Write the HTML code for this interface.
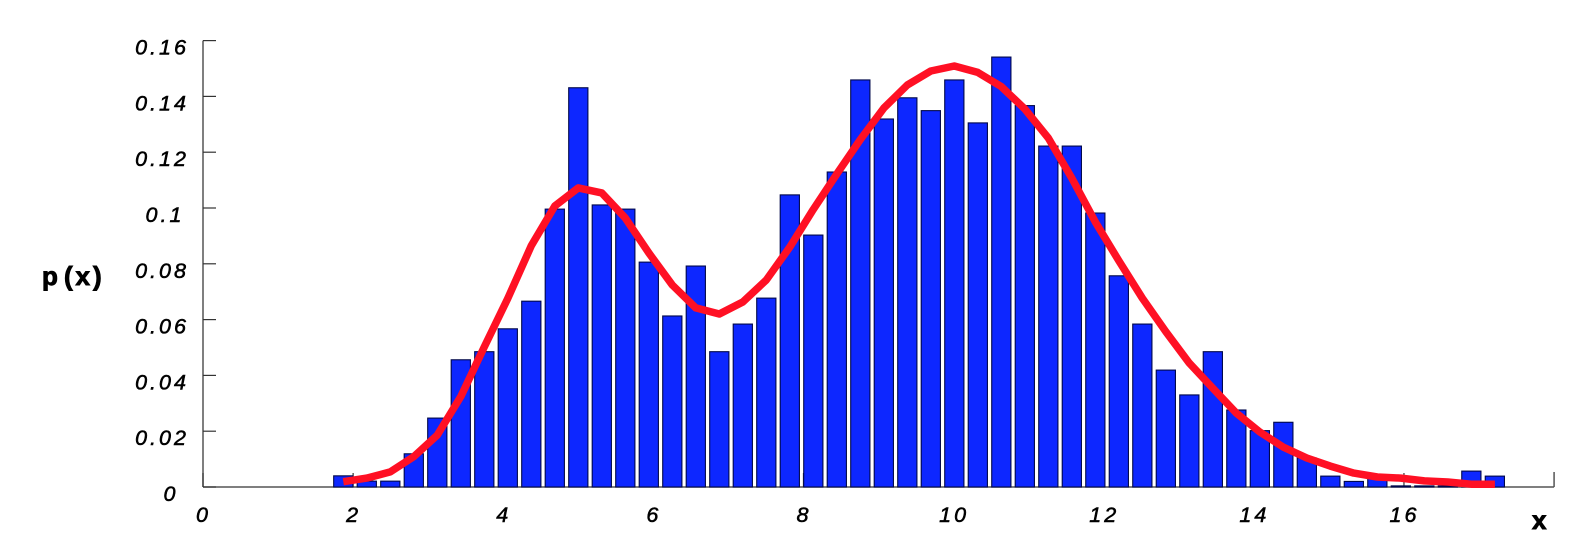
<!DOCTYPE html>
<html lang="en">
<head>
<meta charset="utf-8">
<title>Histogram of p(x) with density curve</title>
<style>
html,body{margin:0;padding:0;background:#fff;}
body{width:1596px;height:556px;overflow:hidden;}
svg{display:block;}
text{font-family:"Liberation Sans",sans-serif;fill:#000;}
.tick-label{font-size:21.5px;font-style:italic;letter-spacing:3px;text-anchor:middle;stroke:#000;stroke-width:.55px;}
.axis-title{font-size:26px;font-weight:bold;stroke:#000;stroke-width:.9px;}
</style>
</head>
<body>
<svg id="chart" width="1596" height="556" viewBox="0 0 1596 556" xmlns="http://www.w3.org/2000/svg">
  <g id="axes"></g>
  <g id="bars"></g>
  <polyline id="curve" fill="none" stroke="#ff1024" stroke-width="7.5" stroke-linejoin="round"></polyline>
  <g id="tick-labels"></g>
  <text class="axis-title" x="42 64 75.5 93" y="285">p(x)</text>
  <text class="axis-title" x="1532" y="529">x</text>
</svg>
<script>
const xTicks = [0, 2, 4, 6, 8, 10, 12, 14, 16];
const yTicks = [0.02, 0.04, 0.06, 0.08, 0.1, 0.12, 0.14, 0.16];
const yTickLabels = ['0.02', '0.04', '0.06', '0.08', '0.1', '0.12', '0.14', '0.16'];
const firstBinCenter = 1.869;
const binWidth = 0.3131;
const barValues = [
  0.0040, 0.0021, 0.0021, 0.0119, 0.0247, 0.0456, 0.0485, 0.0567, 0.0666, 0.0996,
  0.1431, 0.1011, 0.0996, 0.0806, 0.0613, 0.0792, 0.0485, 0.0584, 0.0677, 0.1047,
  0.0903, 0.1129, 0.1459, 0.1319, 0.1395, 0.1349, 0.1459, 0.1305, 0.1541, 0.1367,
  0.1222, 0.1222, 0.0982, 0.0757, 0.0584, 0.0419, 0.0330, 0.0485, 0.0276, 0.0202,
  0.0232, 0.0104, 0.0039, 0.0020, 0.0040, 0.0004, 0.0004, 0.0004, 0.0057, 0.0039
];
const curveValues = [
  0.0019, 0.0032, 0.0054, 0.0109, 0.0186, 0.0324, 0.0502, 0.0676, 0.0865, 0.1007,
  0.1072, 0.1054, 0.0964, 0.0839, 0.0724, 0.0642, 0.0620, 0.0663, 0.0742, 0.0860,
  0.0995, 0.1122, 0.1245, 0.1358, 0.1441, 0.1491, 0.1509, 0.1486, 0.1435, 0.1355,
  0.1251, 0.1107, 0.0950, 0.0811, 0.0677, 0.0557, 0.0444, 0.0354, 0.0265, 0.0197,
  0.0143, 0.0104, 0.0075, 0.0050, 0.0036, 0.0032, 0.0022, 0.0018, 0.0010, 0.0010
];

const NS = 'http://www.w3.org/2000/svg';
const xScale = function (v) { return 203 + v * 75.06; };
const yScale = function (v) { return 487 - v * 2790; };
const axisColor = '#555';

function make(tag, attrs) {
  const el = document.createElementNS(NS, tag);
  Object.keys(attrs).forEach(function (k) { el.setAttribute(k, attrs[k]); });
  return el;
}

const axes = document.getElementById('axes');
const barsGroup = document.getElementById('bars');
const labels = document.getElementById('tick-labels');

const yAxis = make('line', { x1: xScale(0), y1: yScale(0.16), x2: xScale(0), y2: yScale(0), stroke: axisColor, 'stroke-width': 1.5 });


axes.appendChild(yAxis);

const xAxis = make('line', { x1: xScale(0), y1: yScale(0), x2: xScale(18), y2: yScale(0), stroke: axisColor, 'stroke-width': 1.5 });


axes.appendChild(xAxis);

const xEnd = make('line', { x1: xScale(18), y1: yScale(0), x2: xScale(18), y2: yScale(0) - 15, stroke: axisColor, 'stroke-width': 1.5 });


axes.appendChild(xEnd);

yTicks.concat([0]).forEach(function (v) {
  const t = make('line', { x1: xScale(0), y1: yScale(v), x2: xScale(0) + 13, y2: yScale(v), stroke: '#333', 'stroke-width': 1.2 });
  
  
  axes.appendChild(t);
});

xTicks.forEach(function (v) {
  const t = make('line', { x1: xScale(v), y1: yScale(0), x2: xScale(v), y2: yScale(0) - 14, stroke: '#333', 'stroke-width': 1.2 });
  
  
  axes.appendChild(t);
});

barValues.forEach(function (v, i) {
  const center = firstBinCenter + i * binWidth;
  const left = xScale(center - 0.128);
  const right = xScale(center + 0.128);
  const bar = make('rect', {
    x: left,
    y: yScale(v),
    width: right - left,
    height: yScale(0) - yScale(v),
    fill: '#0d27ff',
    stroke: '#00084a',
    'stroke-width': 1.1
  });
  
  
  barsGroup.appendChild(bar);
});

const curvePoints = curveValues.map(function (v, i) {
  return xScale(firstBinCenter + i * binWidth).toFixed(1) + ',' + yScale(v).toFixed(1);
});
document.getElementById('curve').setAttribute('points', curvePoints.join(' '));

yTickLabels.forEach(function (s, i) {
  const t = make('text', { class: 'tick-label', x: s.length === 3 ? 165 : 162, y: yScale(yTicks[i]) + 14 });
  t.textContent = s;
  
  
  labels.appendChild(t);
});

const yZero = make('text', { class: 'tick-label', x: 171, y: yScale(0) + 14 });
yZero.textContent = '0';


labels.appendChild(yZero);

xTicks.forEach(function (v) {
  const t = make('text', { class: 'tick-label', x: xScale(v) + 0.5, y: 522 });
  t.textContent = String(v);
  
  
  labels.appendChild(t);
});
</script>
</body>
</html>
